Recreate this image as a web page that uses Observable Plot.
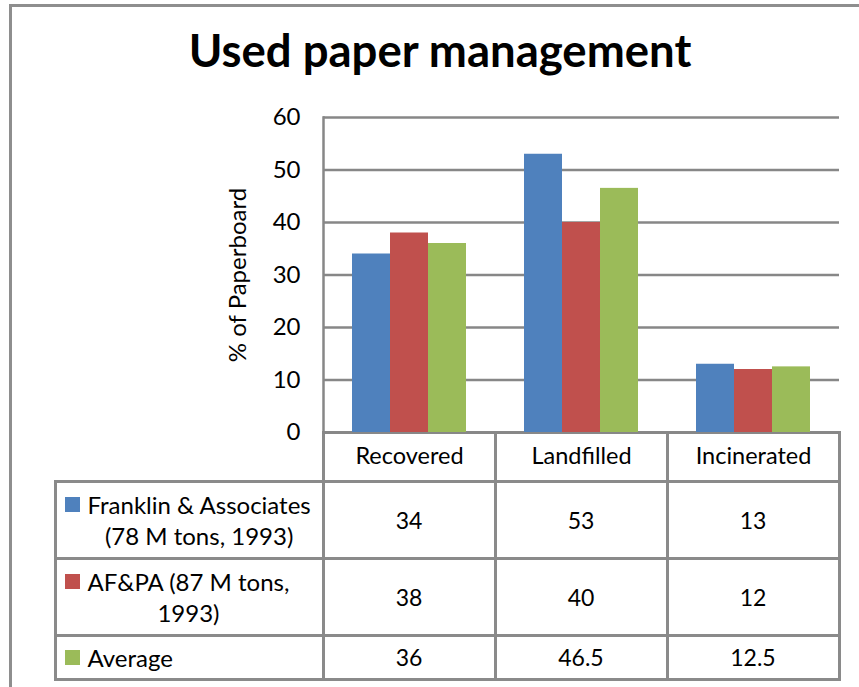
<!DOCTYPE html>
<html><head><meta charset="utf-8">
<script src="https://cdn.jsdelivr.net/npm/d3@7"></script>
<script src="https://cdn.jsdelivr.net/npm/@observablehq/plot@0.6"></script>
<style>
body{margin:0;background:#fff;}
#wrap{position:relative;width:859px;height:687px;overflow:hidden;background:#fff;font-family:Lato,"Open Sans",sans-serif;color:#000;}
#border{position:absolute;left:9px;top:4px;width:900px;height:800px;border-left:3px solid #8e8e8e;border-top:3px solid #8e8e8e;}
#title{position:absolute;left:0;width:880px;top:27px;line-height:46px;text-align:center;font-weight:bold;font-size:45.5px;}
#chart{position:absolute;left:0;top:0;z-index:2;}
#tbl{position:absolute;z-index:1;display:grid;background:#8a8a8a;padding:3px;gap:3px;font-size:23px;}
#tbl > div{background:#fff;display:flex;align-items:center;justify-content:center;text-align:center;}
#tbl .corner{margin:-3px 0 0 -3px;}
#tbl .leg{justify-content:flex-start;font-size:24px;}
#tbl .lw{position:relative;flex:none;margin-left:31px;line-height:31px;text-align:center;white-space:nowrap;}
#tbl .sw{position:absolute;left:-23px;top:8px;width:15px;height:15px;}
</style></head><body>
<div id="wrap"><div id="border"></div><div id="title">Used paper management</div><div id="chart"></div><div id="tbl"></div></div>
<script>
const categories = ["Recovered", "Landfilled", "Incinerated"];
const seriesNames = ["Franklin & Associates (78 M tons, 1993)", "AF&PA (87 M tons, 1993)", "Average"];
const seriesLabelLines = [["Franklin & Associates", "(78 M tons, 1993)"], ["AF&PA (87 M tons,", "1993)"], ["Average"]];
const franklin = [34, 53, 13];
const afpa = [38, 40, 12];
const average = [36, 46.5, 12.5];
const yTicks = [0, 10, 20, 30, 40, 50, 60];
const yLabel = "% of Paperboard";
const colors = ["#4F81BD", "#C0504D", "#9BBB59"];

const seriesValues = [franklin, afpa, average];
const rows = [];
categories.forEach((c, i) => seriesNames.forEach((s, j) => rows.push({category: c, series: s, value: seriesValues[j][i]})));

const gray = "#878787";
const chart = Plot.plot({
  width: 859, height: 481,
  marginTop: 117, marginBottom: 49, marginLeft: 323, marginRight: 20,
  style: {fontFamily: "Lato, 'Open Sans', sans-serif", fontSize: "23px", color: "#000", background: "transparent"},
  fx: {domain: categories, padding: 0},
  x: {domain: seriesNames, paddingInner: 0, paddingOuter: 0.763, axis: null},
  y: {domain: [0, 60]},
  color: {domain: seriesNames, range: colors},
  marks: [
    Plot.gridY(yTicks, {stroke: gray, strokeOpacity: 1, strokeWidth: 2.5}),
    Plot.barY(rows, {fx: "category", x: "series", y: "value", fill: "series"}),
    Plot.frame({anchor: "left", facetAnchor: "left", stroke: gray, strokeOpacity: 1, strokeWidth: 2.5}),
    Plot.axisY(yTicks, {tickSize: 0, tickPadding: 23, label: yLabel, labelArrow: false, labelAnchor: "center", labelOffset: 95, fontSize: 24}),
    Plot.axisFx({anchor: "bottom", tickSize: 0, tickPadding: 15, label: null, fontSize: 23.5})
  ]
});
document.getElementById("chart").appendChild(chart);

// data table below the chart, aligned to the fx band scale
const fx = chart.scale("fx");
const y = chart.scale("y");
const line = 3;
const x0 = 55; // left edge of the legend column (line center)
const colW = [fx.apply(categories[0]) - x0 - line].concat(categories.map(() => fx.bandwidth - line));
const rowH = [46, 74, 74, 41];
const tbl = document.getElementById("tbl");
tbl.style.left = (x0 - line / 2) + "px";
tbl.style.top = (y.apply(0) - line / 2) + "px";
tbl.style.gridTemplateColumns = colW.map(w => w + "px").join(" ");
tbl.style.gridTemplateRows = rowH.map(h => h + "px").join(" ");
let html = '<div class="corner"></div>' + categories.map(() => '<div></div>').join("");
seriesNames.forEach((s, j) => {
  html += `<div class="leg"><div class="lw"><span class="sw" style="background:${colors[j]}"></span>${seriesLabelLines[j].map(t => t.replace(/&/g, "&amp;")).join("<br>")}</div></div>`;
  html += seriesValues[j].map(v => `<div>${v}</div>`).join("");
});
tbl.innerHTML = html;
</script>
</body></html>
